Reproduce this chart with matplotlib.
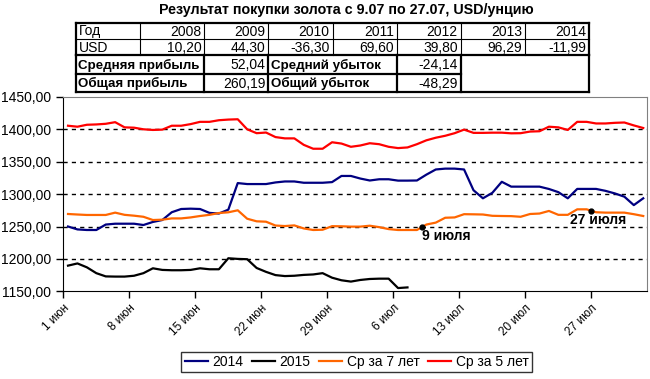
import numpy as np
import matplotlib
matplotlib.use("Agg")
import matplotlib.pyplot as plt
from matplotlib.lines import Line2D

plt.rcParams['font.family'] = ['Liberation Sans', 'DejaVu Sans']

# daily values from 1 June (index 0) to 1 August
gold_2014 = [1250, 1245.5, 1244.6, 1244.6, 1253, 1254.3, 1254.3, 1254.3, 1252.3, 1257,
             1260, 1272, 1277, 1277.5, 1277, 1271, 1270, 1276, 1317, 1315.5,
             1315.5, 1315.5, 1318, 1319.5, 1319.5, 1317.5, 1317.5, 1317.5, 1318.5, 1328,
             1328, 1324, 1321, 1322.9, 1322.9, 1320.8, 1320.8, 1321, 1330, 1338,
             1339.3, 1339.3, 1338, 1306, 1293.5, 1302, 1319, 1311.5, 1311.5, 1311.5,
             1311.5, 1307.9, 1303, 1293.5, 1308, 1308, 1308, 1305, 1301, 1296,
             1283, 1293.5]
gold_2015 = [1189.6, 1193, 1187, 1178, 1173, 1172.7, 1172.7, 1174, 1178, 1185.5,
             1183, 1182.5, 1182.5, 1183, 1185.5, 1184, 1184, 1201, 1200, 1199.5,
             1186, 1180, 1175, 1173.5, 1174, 1175.3, 1176, 1178, 1171, 1167,
             1165, 1167.5, 1169, 1169.5, 1169.5, 1155, 1156] + [np.nan] * 25
avg_7y = [1269.3, 1268.5, 1267.8, 1267.8, 1267.8, 1271.4, 1268, 1266.7, 1265, 1260,
          1260.5, 1262.5, 1262.5, 1264, 1266.2, 1268, 1270.8, 1271.9, 1275, 1262,
          1258, 1257.4, 1251.5, 1250.7, 1251.7, 1247, 1244.6, 1245, 1250.5, 1250.3,
          1249.8, 1249.8, 1251.2, 1249, 1246, 1244.6, 1244.6, 1244.6, 1253, 1256,
          1263.5, 1264, 1269, 1268.8, 1268.5, 1266.5, 1266.2, 1266, 1265, 1269.3,
          1270, 1274, 1268, 1268, 1276.5, 1276.5, 1272, 1271.4, 1271.4, 1271.4,
          1269, 1266.2]
avg_5y = [1405.5, 1404, 1407, 1407.5, 1408.5, 1411, 1403, 1402.5, 1400, 1399,
          1399.5, 1405.5, 1405.5, 1408, 1411.5, 1411.5, 1414, 1415, 1415.5, 1400,
          1394, 1395, 1388, 1386, 1386, 1376, 1370, 1370, 1380, 1378,
          1373, 1375, 1378.5, 1377, 1373, 1371, 1372, 1377, 1383, 1387,
          1390, 1394, 1399.5, 1394.5, 1394.5, 1394.8, 1394.8, 1393.8, 1394, 1396.5,
          1397, 1404, 1403, 1399, 1411.5, 1411.5, 1409, 1409, 1410, 1410.5,
          1406, 1402]

tick_labels = ['1 июн', '8 июн', '15 июн', '22 июн', '29 июн',
               '6 июл', '13 июл', '20 июл', '27 июл']
marks = {'9 июля': 38, '27 июля': 56}

years = ['2008', '2009', '2010', '2011', '2012', '2013', '2014']
usd = [10.20, 44.30, -36.30, 69.60, 39.80, 96.29, -11.99]
avg_profit, total_profit = 52.04, 260.19
avg_loss, total_loss = -24.14, -48.29

title = 'Результат покупки золота с 9.07 по 27.07, USD/унцию'


def fmt(v):
    return f'{v:.2f}'.replace('.', ',')


W, H = 650, 379
fig = plt.figure(figsize=(6.5, 3.79), dpi=100, facecolor='white')


def fx(px):
    return px / W


def fy(py):
    return 1 - py / H


ax = fig.add_axes([fx(63.3), fy(291.3), fx(647) - fx(63.3), fy(96.9) - fy(291.3)])

x = np.arange(len(avg_5y)) + 0.5
series = [(gold_2014, '#000080', '2014'), (gold_2015, '#000000', '2015'),
          (avg_7y, '#FF6600', 'Ср за 7 лет'), (avg_5y, '#FF0000', 'Ср за 5 лет')]
for vals, col, lab in series:
    ax.plot(x, vals, color=col, lw=1.6, label=lab, solid_joinstyle='round')

for txt, d in marks.items():
    yv = np.interp(d, x, avg_7y)
    ax.plot(d, yv, 'o', color='black', ms=3.5, zorder=5)
    if d == 38:
        ax.text(d, yv - 3, txt, ha='left', va='top', fontsize=10, fontweight='bold')
    else:
        ax.text(d + 0.7, yv - 3, txt, ha='center', va='top', fontsize=10, fontweight='bold')

ax.set_xlim(0, 61.9)
ax.set_ylim(1150, 1450)
ax.set_yticks(np.arange(1150, 1451, 50))
ax.set_yticklabels([fmt(v) for v in np.arange(1150, 1451, 50)], fontsize=10)
ax.set_xticks(np.arange(0, 57, 7))
ax.set_xticklabels(tick_labels, rotation=45, ha='right', va='top',
                   rotation_mode='anchor', fontsize=8.5)
ax.tick_params(axis='both', direction='out', length=5, width=1, color='black')
ax.tick_params(axis='y', pad=4)
ax.tick_params(axis='x', pad=3)

for v in np.arange(1200, 1401, 50):
    ax.axhline(v, color='black', lw=1, ls=(0, (3, 3)), zorder=0)

ax.spines['left'].set_color('black')
ax.spines['bottom'].set_color('black')
ax.spines['top'].set_color('#808080')
ax.spines['right'].set_color('#808080')

leg = fig.legend(loc='center', bbox_to_anchor=(fx(356.5), fy(362)), ncol=4,
                 fontsize=10, frameon=True, fancybox=False, edgecolor='black',
                 handlelength=1.7, handletextpad=0.3, columnspacing=0.6,
                 borderpad=0.25, borderaxespad=0)
leg.get_frame().set_linewidth(1)

# title and table above the plot
fig.text(fx(346), fy(10), title, ha='center', va='center', fontsize=10.3,
         fontweight='bold')

cols = [76 + 64.125 * k for k in range(9)]
rows = [23, 39, 55, 74, 92]


def hline(py, x0, x1, lw):
    fig.add_artist(Line2D([fx(x0), fx(x1)], [fy(py), fy(py)], color='black', lw=lw,
                          solid_capstyle='projecting'))


def vline(px, y0, y1, lw):
    fig.add_artist(Line2D([fx(px), fx(px)], [fy(y0), fy(y1)], color='black', lw=lw,
                          solid_capstyle='projecting'))


thin, thick = 0.8, 1.6
# first two rows
for py in rows[:2]:
    hline(py, cols[0], cols[8], thick if py == rows[0] else thin)
for k, px in enumerate(cols):
    vline(px, rows[0], rows[2], thick if k in (0, 8) else thin)
# summary rows
hline(rows[2], cols[0], cols[8], thick)
hline(rows[3], cols[0], cols[6], thick)
hline(rows[4], cols[0], cols[8], thick)
for px in (cols[0], cols[2], cols[3], cols[5], cols[6], cols[8]):
    vline(px, rows[2], rows[4], thick)

r1 = (rows[0] + rows[1]) / 2 + 0.5
r2 = (rows[1] + rows[2]) / 2 + 0.5
fig.text(fx(cols[0] + 3), fy(r1), 'Год', ha='left', va='center', fontsize=10)
fig.text(fx(cols[0] + 3), fy(r2), 'USD', ha='left', va='center', fontsize=10)
for k in range(7):
    fig.text(fx(cols[k + 2] - 3), fy(r1), years[k], ha='right', va='center', fontsize=10)
    fig.text(fx(cols[k + 2] - 3), fy(r2), fmt(usd[k]), ha='right', va='center', fontsize=10)

r3 = (rows[2] + rows[3]) / 2 + 0.5
r4 = (rows[3] + rows[4]) / 2 + 0.5
for ry, lab1, v1, lab2, v2 in [(r3, 'Средняя прибыль', avg_profit, 'Средний убыток', avg_loss),
                               (r4, 'Общая прибыль', total_profit, 'Общий убыток', total_loss)]:
    fig.text(fx(cols[0] + 2), fy(ry), lab1, ha='left', va='center', fontsize=9.6,
             fontweight='bold')
    fig.text(fx(cols[3] - 3), fy(ry), fmt(v1), ha='right', va='center', fontsize=10)
    fig.text(fx(cols[3] + 3), fy(ry), lab2, ha='left', va='center', fontsize=9.6,
             fontweight='bold')
    fig.text(fx(cols[6] - 3), fy(ry), fmt(v2), ha='right', va='center', fontsize=10)

fig.savefig('out.png', dpi=100, facecolor='white')
